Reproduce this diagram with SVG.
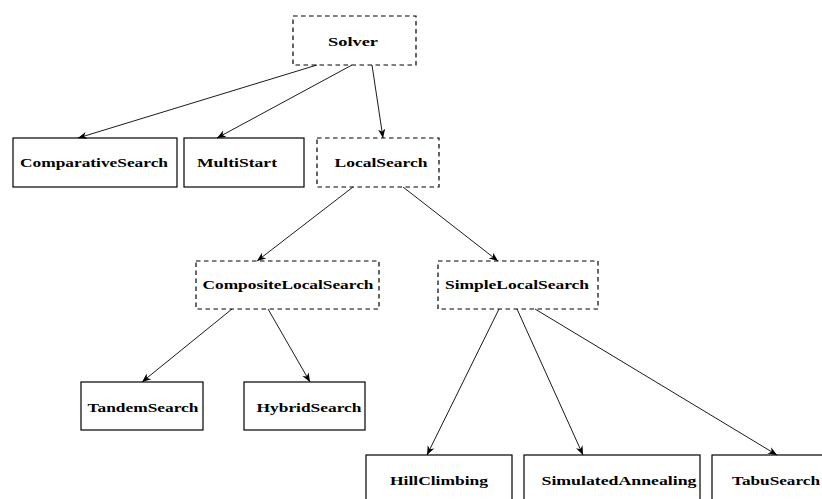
<svg xmlns="http://www.w3.org/2000/svg" width="822" height="499" viewBox="0 0 822 499">
  <style>
    .box { fill: none; stroke: #000; stroke-width: 1.2; }
    .abstract { stroke-dasharray: 4.5 3.5; }
    .lbl { font-family: "Liberation Serif", "DejaVu Serif", serif; font-weight: bold; font-size: 13.5px; fill: #000; text-anchor: middle; }
    .edge { fill: none; stroke: #000; stroke-width: 0.9; marker-end: url(#tip); }
  </style>
  <defs>
    <marker id="tip" viewBox="0 0 10 10" refX="10" refY="5" markerWidth="9" markerHeight="9" markerUnits="userSpaceOnUse" orient="auto">
      <path d="M0,1 L10,5 L0,9 L3,5 Z" fill="#000"/>
    </marker>
  </defs>
  <rect width="822" height="499" fill="#fff"/>

  <g id="connectors">
    <line class="edge" x1="317" y1="65" x2="78" y2="138"/>
    <line class="edge" x1="352" y1="65" x2="217" y2="138"/>
    <line class="edge" x1="372" y1="65" x2="383" y2="138"/>
    <line class="edge" x1="353" y1="187" x2="257" y2="261"/>
    <line class="edge" x1="403" y1="187" x2="498" y2="261"/>
    <line class="edge" x1="232" y1="309" x2="142" y2="382"/>
    <line class="edge" x1="268" y1="309" x2="310" y2="382"/>
    <line class="edge" x1="499" y1="309" x2="427" y2="455"/>
    <line class="edge" x1="517" y1="309" x2="583" y2="455"/>
    <line class="edge" x1="535" y1="309" x2="777" y2="455"/>
  </g>

  <g id="Solver">
    <rect class="box abstract" x="293" y="16" width="123" height="49"/>
    <text class="lbl" x="353" y="46" textLength="50" lengthAdjust="spacingAndGlyphs">Solver</text>
  </g>
  <g id="ComparativeSearch">
    <rect class="box" x="13" y="138" width="164" height="49"/>
    <text class="lbl" x="94" y="167" textLength="148" lengthAdjust="spacingAndGlyphs">ComparativeSearch</text>
  </g>
  <g id="MultiStart">
    <rect class="box" x="184" y="138" width="120" height="49"/>
    <text class="lbl" x="237" y="167" textLength="80" lengthAdjust="spacingAndGlyphs">MultiStart</text>
  </g>
  <g id="LocalSearch">
    <rect class="box abstract" x="317" y="138" width="122" height="49"/>
    <text class="lbl" x="381" y="167" textLength="93" lengthAdjust="spacingAndGlyphs">LocalSearch</text>
  </g>
  <g id="CompositeLocalSearch">
    <rect class="box abstract" x="196" y="261" width="183" height="48"/>
    <text class="lbl" x="288" y="289" textLength="171" lengthAdjust="spacingAndGlyphs">CompositeLocalSearch</text>
  </g>
  <g id="SimpleLocalSearch">
    <rect class="box abstract" x="438" y="261" width="160" height="48"/>
    <text class="lbl" x="517" y="289" textLength="144" lengthAdjust="spacingAndGlyphs">SimpleLocalSearch</text>
  </g>
  <g id="TandemSearch">
    <rect class="box" x="81" y="382" width="122" height="48"/>
    <text class="lbl" x="143" y="412" textLength="111" lengthAdjust="spacingAndGlyphs">TandemSearch</text>
  </g>
  <g id="HybridSearch">
    <rect class="box" x="244" y="382" width="121" height="48"/>
    <text class="lbl" x="309" y="412" textLength="105" lengthAdjust="spacingAndGlyphs">HybridSearch</text>
  </g>
  <g id="HillClimbing">
    <rect class="box" x="366" y="455" width="146" height="60"/>
    <text class="lbl" x="439" y="485" textLength="98" lengthAdjust="spacingAndGlyphs">HillClimbing</text>
  </g>
  <g id="SimulatedAnnealing">
    <rect class="box" x="524" y="455" width="176" height="60"/>
    <text class="lbl" x="619" y="485" textLength="155" lengthAdjust="spacingAndGlyphs">SimulatedAnnealing</text>
  </g>
  <g id="TabuSearch">
    <rect class="box" x="712" y="455" width="120" height="60"/>
    <text class="lbl" x="776" y="485" textLength="88" lengthAdjust="spacingAndGlyphs">TabuSearch</text>
  </g>
</svg>
